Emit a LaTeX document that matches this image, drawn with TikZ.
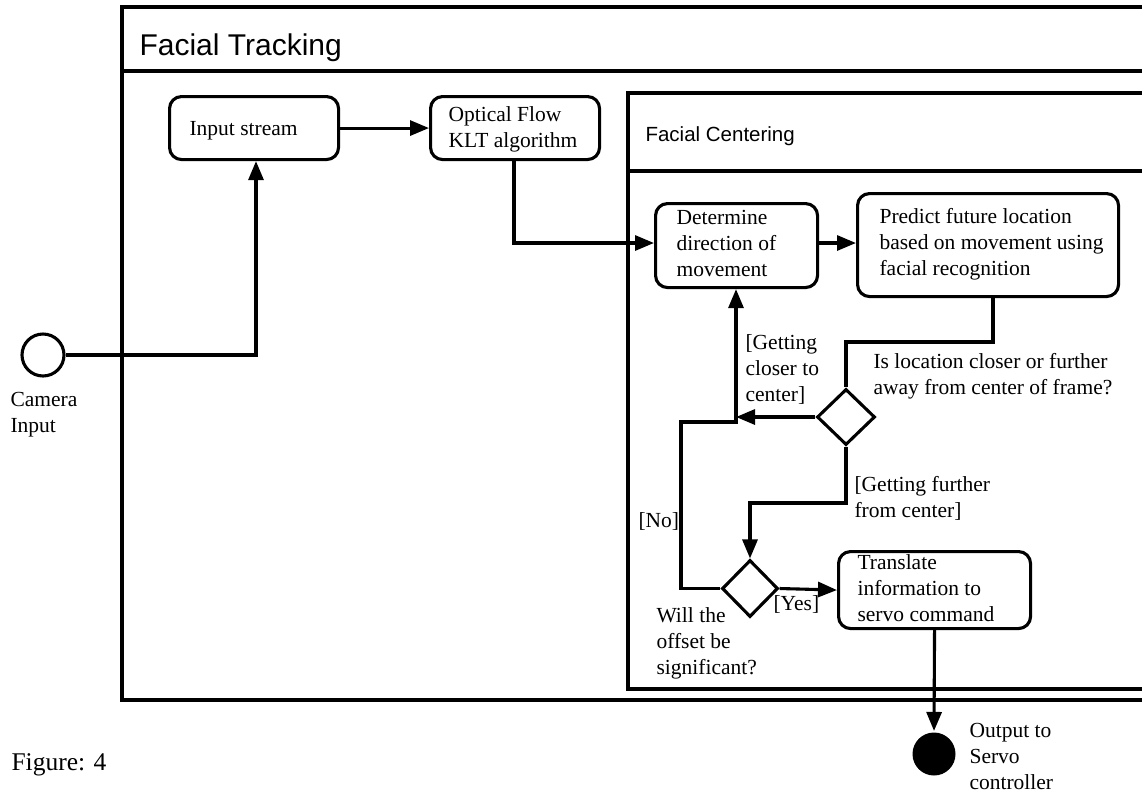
\documentclass[tikz,border=0pt]{standalone}
\usepackage{fontspec}
\setmainfont{Liberation Serif}
\newfontfamily\headfont{Liberation Sans}
\usetikzlibrary{arrows.meta,shapes.geometric}
\begin{document}
\begin{tikzpicture}[x=1pt,y=-1pt,
  line width=3.1pt,
  txt/.style={font=\fontsize{21.5}{26}\selectfont, align=left, inner sep=0pt},
  hdr/.style={font=\headfont\fontsize{#1}{#1}\selectfont, inner sep=0pt, anchor=base west},
  box/.style={draw, fill=white, rounded corners=12pt, inner sep=0pt, anchor=north west},
  dec/.style={draw, fill=white, diamond, inner sep=0pt},
  arr/.style={-{Triangle[length=19pt,width=15pt]}}
]
\useasboundingbox (0,0) rectangle (1142,793);

% swimlane frames
\draw (1142,7) -- (122,7) -- (122,700) -- (1142,700);
\draw (122,71) -- (1142,71);
\draw (1142,93) -- (628,93) -- (628,689) -- (1142,689);
\draw (628,171) -- (1142,171);
\node[hdr=30] (tFT) at (138,55) {Facial Tracking};
\node[hdr=20.5] (tFC) at (644,141) {Facial Centering};

% activities
\node[box, minimum width=169pt, minimum height=63pt] (ins) at (168,95) {};
\node[box, minimum width=169pt, minimum height=63pt] (ofl) at (429,95) {};
\node[box, minimum width=162pt, minimum height=84pt] (det) at (654,202) {};
\node[box, minimum width=261pt, minimum height=103pt] (pre) at (856,192) {};
\node[box, minimum width=192pt, minimum height=77pt] (tra) at (837,550) {};

\node[txt, anchor=base west] (tIns) at (188,135) {Input stream};
\node[txt, anchor=west] (tOfl) at (447,129.5) {Optical Flow\\KLT algorithm};
\node[txt, anchor=west] (tDet) at (675,243) {Determine\\direction of\\movement};
\node[txt, anchor=west] (tPre) at (878,244.5) {Predict future location\\based on movement using\\facial recognition};
\node[txt, anchor=west] (tTra) at (856,588) {Translate\\information to\\servo command};

% decisions
\node[dec, minimum width=58pt, minimum height=56pt] (d1) at (846,417) {};
\node[dec, minimum width=56pt, minimum height=57pt] (d2) at (750,588.5) {};

% initial and final nodes
\node[draw, circle, minimum size=42pt, inner sep=0pt] (cam) at (43,355) {};
\node[fill=black, circle, minimum size=43pt, inner sep=0pt] (fin) at (934,754) {};

% bend points
\coordinate (c1) at (256,355);
\coordinate (c2) at (514,243);
\coordinate (c3) at (993,342);
\coordinate (jn) at (736,422);
\coordinate (nk) at (681,422);
\coordinate (k2) at (750,503);

% flows
\draw[arr] (cam.east) -- (c1) -- (c1 |- ins.south);
\draw[arr] (ins.east) -- (ofl.west);
\draw[arr] (c2 |- ofl.south) -- (c2) -- (c2 -| det.west);
\draw[arr] (det.east |- c2) -- (pre.west |- c2);
\draw (c3 |- pre.south) -- (c3) -| (d1.north);
\draw[arr] (d1.west) -- (d1.west -| jn);
\draw[arr] (d2.west) -| (nk) -- (jn) -- (jn |- det.south);
\draw[arr] (d1.south) |- (k2) -- (d2.north);
\draw[arr] (d2.east) -- (tra.west);
\draw[arr] (tra.south) -- (fin.north);

% guards and notes
\node[txt, anchor=west] (gClose) at (744,369) {[Getting\\closer to\\center]};
\node[txt, anchor=west] (qLoc) at (872,376.5) {Is location closer or further\\away from center of frame?};
\node[txt, anchor=west] (gFar) at (853,498.5) {[Getting further\\from center]};
\node[txt, anchor=base west] (gNo) at (637,527) {[No]};
\node[txt, anchor=base west] (gYes) at (772,610) {[Yes]};
\node[txt, anchor=west] (qOff) at (655,643.5) {Will the\\offset be\\significant?};
\node[txt, anchor=west] (tOut) at (968,756) {Output to\\Servo\\controller};
\node[txt, anchor=west] (tCam) at (9,414.5) {Camera\\Input};
\node[font=\fontsize{25.5}{30}\selectfont, inner sep=0pt, anchor=base west] (fig) at (10,770) {Figure: 4};
\end{tikzpicture}
\end{document}
